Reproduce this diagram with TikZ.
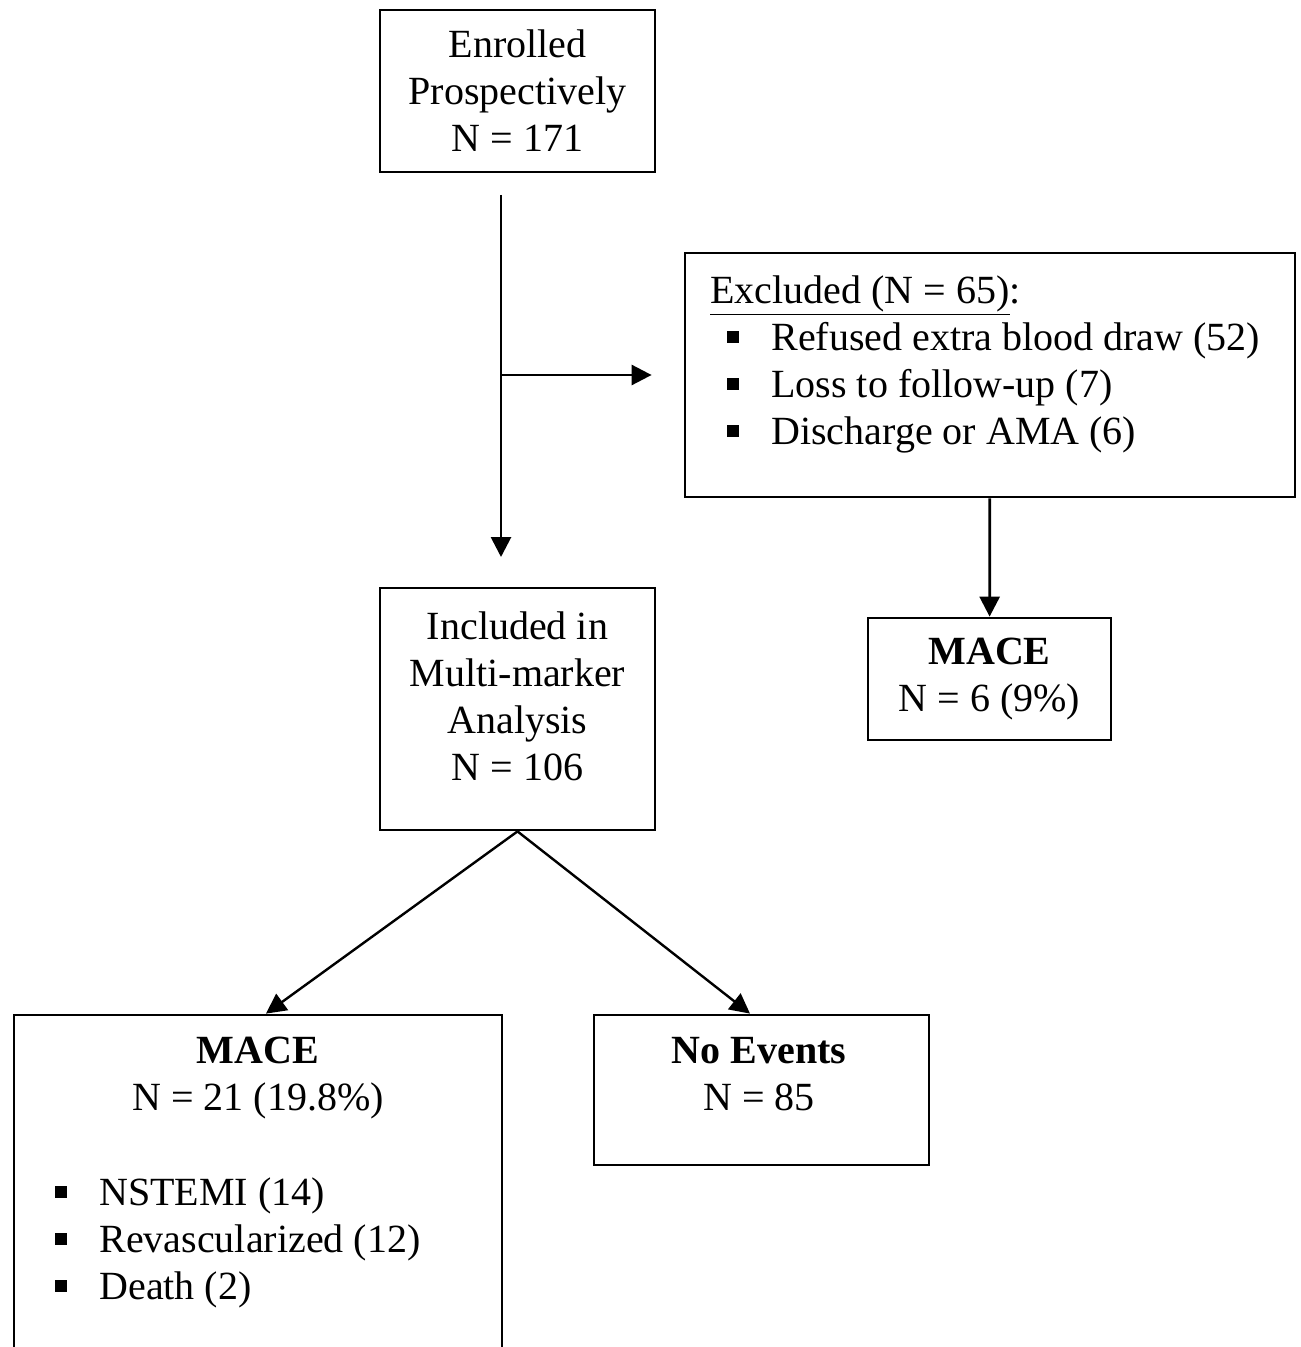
\documentclass[tikz,border=0pt]{standalone}
\usepackage{fontspec}
\setmainfont{Liberation Serif}
\usetikzlibrary{arrows.meta}
\newcommand{\sqbul}[1][0pt]{\hspace*{#1}\raisebox{3.5pt}{\rule{6pt}{6pt}}\hspace*{16pt}}

\begin{document}
\begin{tikzpicture}[
                x=0.5pt, y=-0.5pt,
                font=\fontsize{20}{23.5}\selectfont,
                box/.style={draw, line width=1.4pt, inner sep=0pt},
                txt/.style={inner sep=0pt, align=center},
                arr/.style={line width=1.4pt, -{Triangle[length=10pt, width=10pt]}}
            ]
            \path[use as bounding box, clip] (0,0) rectangle (1300,1347);
            \fill[white] (0,0) rectangle (1300,1347);

            \node[box, minimum width=137.5pt, minimum height=81pt, align=center] (enrolled) at (517.5,91)
                {Enrolled\\Prospectively\\N = 171};

            \node[box, minimum width=305pt, minimum height=122pt] (excluded) at (990,375) {};
            \node[txt, align=left, anchor=north west] (excludedtext) at (710,275)
                {\underline{Excluded (N = 65)}:\\\sqbul[8.5pt]Refused extra blood draw (52)\\\sqbul[8.5pt]Loss to follow-up (7)\\\sqbul[8.5pt]Discharge or AMA (6)};

            \node[box, minimum width=137.5pt, minimum height=121pt] (included) at (517.5,709) {};
            \node[txt, anchor=north] (includedtext) at (517.5,611)
                {Included in\\Multi-marker\\Analysis\\N = 106};

            \node[box, minimum width=121.5pt, minimum height=61pt, align=center] (macex) at (989.5,679)
                {\textbf{MACE}\\N = 6 (9\%)};

            \node[box, minimum width=244pt, minimum height=200pt] (macein) at (258,1215) {};
            \node[txt, anchor=north] (maceinhead) at (258,1037) {\textbf{MACE}\\N = 21 (19.8\%)};
            \node[txt, align=left, anchor=north west] (maceinlist) at (55,1177)
                {\sqbul NSTEMI (14)\\\sqbul Revascularized (12)\\\sqbul Death (2)};

            \node[box, minimum width=167.5pt, minimum height=75pt] (noevents) at (761.5,1090) {};
            \node[txt, anchor=north] (noeventstext) at (759,1037) {\textbf{No Events}\\N = 85};

            \coordinate (trunktop) at (501,195);
            \coordinate (branch) at (501,375);
            \coordinate (trunkend) at (501,557);

            \draw[arr] (trunktop) -- (trunkend);
            \draw[arr] (branch) -- ([xshift=-16pt]excluded.west);
            \draw[arr] (excluded) -- (macex);
            \draw[arr, line width=1.2pt] (included.south) -- ([xshift=4pt]macein.north);
            \draw[arr, line width=1.2pt] (included.south) -- ([xshift=-5.75pt]noevents.north);
        \end{tikzpicture}
\end{document}
